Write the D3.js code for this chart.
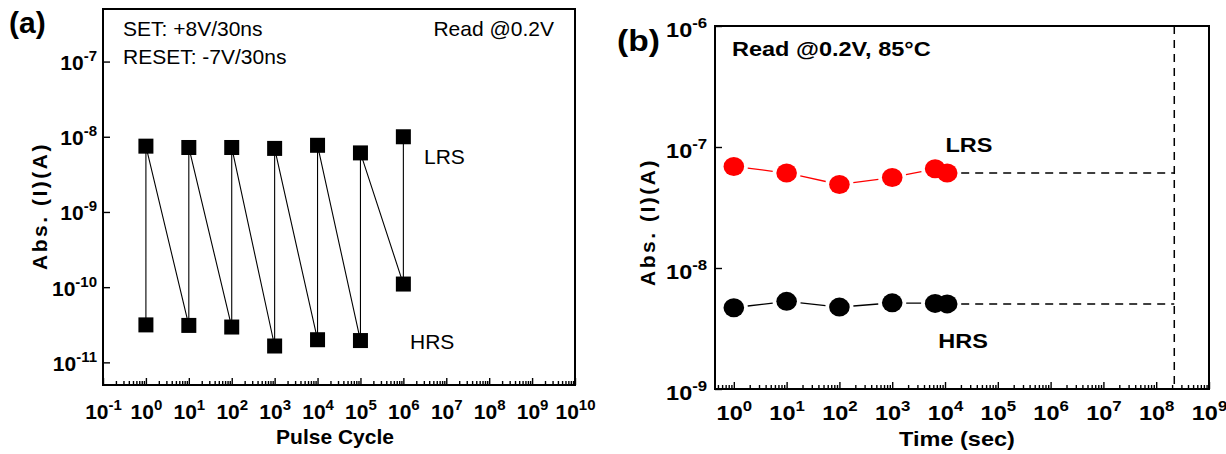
<!DOCTYPE html>
<html>
<head>
<meta charset="utf-8">
<title>Endurance and retention</title>
<script src="https://d3js.org/d3.v7.min.js"></script>
<style>
  body { margin: 0; background: #fff; }
  svg { display: block; font-family: "Liberation Sans", Arial, sans-serif; }
  .frame { fill: none; stroke: #000; stroke-width: 2; }
  .tick line { stroke: #000; stroke-width: 1.4; }
  .tick text { font-family: "Liberation Sans", Arial, sans-serif; font-weight: bold; font-size: 21px; fill: #000; }
  .note { font-size: 21px; fill: #000; }
  .bnote { font-size: 21px; font-weight: bold; fill: #000; }
  .title { font-size: 21px; font-weight: bold; fill: #000; }
</style>
</head>
<body>
<svg width="1226" height="454"></svg>
<script>
// (a) endurance: read current after each pulse cycle
const cyclesA = [1, 10, 100, 1000, 1e4, 1e5, 1e6];
const lrsA = [7.5e-9, 7.2e-9, 7.2e-9, 7.0e-9, 7.7e-9, 6.1e-9, 1.0e-8];
const hrsA = [3.15e-11, 3.1e-11, 2.95e-11, 1.65e-11, 2.0e-11, 1.95e-11, 1.1e-10];
const xExpA = d3.range(-1, 11);
const yExpA = [-11, -10, -9, -8, -7];

// (b) retention at 85C
const timeB = [1, 10, 100, 1000, 6500, 11000];
const lrsB = [6.9e-8, 6.1e-8, 4.9e-8, 5.6e-8, 6.6e-8, 6.1e-8];
const hrsB = [4.7e-9, 5.3e-9, 4.75e-9, 5.15e-9, 5.1e-9, 5.05e-9];
const retentionEnd = 2.2e8;
const xExpB = d3.range(0, 10);
const yExpB = [-9, -8, -7, -6];

const svg = d3.select("svg");

function minors(lo, hi) {
  const out = [];
  for (let e = Math.floor(Math.log10(lo)); e < Math.ceil(Math.log10(hi)); e++) {
    for (let k = 2; k < 10; k++) {
      const v = k * Math.pow(10, e);
      if (v > lo && v < hi) out.push(v);
    }
  }
  return out;
}

// "10" with superscript exponent
function powLabel(sel, sx) {
  sel.each(function(d) {
    const t = d3.select(this).text(null);
    t.append("tspan").text("10");
    t.append("tspan").attr("dy", -9).attr("font-size", 15).text(Math.round(Math.log10(d)));
    if (sx) t.attr("transform", `scale(${sx},1)`);
  });
}

function panel(cfg) {
  const x = d3.scaleLog().domain(cfg.xDomain).range([cfg.left, cfg.right]);
  const y = d3.scaleLog().domain(cfg.yDomain).range([cfg.bottom, cfg.top]);
  const g = svg.append("g");

  // minor x ticks
  g.append("g")
    .attr("transform", `translate(0,${cfg.bottom})`)
    .call(d3.axisBottom(x).tickValues(minors(...cfg.xDomain)).tickSizeInner(-4).tickSizeOuter(0).tickFormat(""))
    .call(a => a.select(".domain").remove());

  // major x ticks
  g.append("g")
    .attr("transform", `translate(0,${cfg.bottom})`)
    .call(d3.axisBottom(x).tickValues(cfg.xExp.map(e => Math.pow(10, e))).tickSizeInner(-7).tickSizeOuter(0))
    .call(a => a.select(".domain").remove())
    .call(a => a.selectAll(".tick text").attr("y", cfg.xLabelY).attr("dy", null).call(powLabel, cfg.sx));

  // major y ticks
  g.append("g")
    .attr("transform", `translate(${cfg.left},0)`)
    .call(d3.axisLeft(y).tickValues(cfg.yExp.map(e => Math.pow(10, e))).tickSizeInner(-7).tickSizeOuter(0).tickPadding(cfg.yPad))
    .call(a => a.select(".domain").remove())
    .call(a => a.selectAll(".tick text").attr("dy", cfg.yLabelDy).call(powLabel, cfg.sx));

  g.append("rect").attr("class", "frame")
    .attr("x", cfg.left).attr("y", cfg.top)
    .attr("width", cfg.right - cfg.left).attr("height", cfg.bottom - cfg.top);

  return { x, y, g };
}

// ---------- panel (a) ----------
const A = panel({
  xDomain: [0.1, 1e10], yDomain: [5e-12, 5e-7],
  left: 103, right: 575, top: 9, bottom: 385,
  xExp: xExpA, yExp: yExpA, xLabelY: 34, yPad: 6, yLabelDy: 8
});

const zigzag = cyclesA.flatMap((c, i) => [[c, hrsA[i]], [c, lrsA[i]]]);
A.g.append("path")
  .attr("d", d3.line().x(d => A.x(d[0])).y(d => A.y(d[1]))(zigzag))
  .attr("fill", "none").attr("stroke", "#000").attr("stroke-width", 1.1);

const sq = 15;
A.g.selectAll("rect.pt")
  .data(zigzag)
  .join("rect")
  .attr("class", "pt")
  .attr("x", d => A.x(d[0]) - sq / 2)
  .attr("y", d => A.y(d[1]) - sq / 2)
  .attr("width", sq).attr("height", sq)
  .attr("fill", "#000");

A.g.append("text").attr("class", "note").attr("x", 123).attr("y", 36).text("SET: +8V/30ns");
A.g.append("text").attr("class", "note").attr("x", 123).attr("y", 64).text("RESET: -7V/30ns");
A.g.append("text").attr("class", "note").attr("x", 554).attr("y", 36).attr("text-anchor", "end").text("Read @0.2V");
A.g.append("text").attr("class", "note").attr("x", 424).attr("y", 164).text("LRS");
A.g.append("text").attr("class", "note").attr("x", 410).attr("y", 349).text("HRS");

svg.append("text").attr("x", 9).attr("y", 33)
  .attr("font-size", 30).attr("font-weight", "bold").text("(a)");
svg.append("text").attr("class", "title")
  .attr("transform", "translate(47,206) rotate(-90)")
  .attr("text-anchor", "middle").attr("letter-spacing", 2.5).text("Abs. (I)(A)");
svg.append("text").attr("class", "title")
  .attr("x", 335).attr("y", 444).attr("text-anchor", "middle").attr("font-size", 22).text("Pulse Cycle");

// ---------- panel (b) ----------
const sxB = 1.12;
const B = panel({
  xDomain: [0.44, 1e9], yDomain: [1e-9, 1e-6],
  left: 715, right: 1209, top: 26, bottom: 389,
  xExp: xExpB, yExp: yExpB, xLabelY: 31, yPad: 7, yLabelDy: 10, sx: sxB
});

const dash = "8,6";
const xEnd = B.x(retentionEnd);
B.g.append("line")
  .attr("x1", xEnd).attr("x2", xEnd).attr("y1", B.y(1e-6)).attr("y2", B.y(1e-9))
  .attr("stroke", "#000").attr("stroke-width", 1.5).attr("stroke-dasharray", dash);

const rx = 10.3, ry = 9.5, gap = 14;
[[lrsB, "#ff0000"], [hrsB, "#000"]].forEach(([vals, col]) => {
  const pts = timeB.map((t, i) => [B.x(t), B.y(vals[i])]);
  const last = pts[pts.length - 1];

  B.g.append("line")
    .attr("x1", last[0]).attr("x2", xEnd).attr("y1", last[1]).attr("y2", last[1])
    .attr("stroke", "#000").attr("stroke-width", 1.5).attr("stroke-dasharray", dash);

  // segments with a gap around each marker
  const segs = d3.pairs(pts).filter(([p, q]) => Math.hypot(q[0] - p[0], q[1] - p[1]) > 2 * gap + 2);
  B.g.selectAll(null)
    .data(segs)
    .join("line")
    .each(function([p, q]) {
      const L = Math.hypot(q[0] - p[0], q[1] - p[1]);
      const ux = (q[0] - p[0]) / L, uy = (q[1] - p[1]) / L;
      d3.select(this)
        .attr("x1", p[0] + ux * gap).attr("y1", p[1] + uy * gap)
        .attr("x2", q[0] - ux * gap).attr("y2", q[1] - uy * gap);
    })
    .attr("stroke", col).attr("stroke-width", 1.3);

  B.g.selectAll(null)
    .data(pts)
    .join("ellipse")
    .attr("cx", d => d[0]).attr("cy", d => d[1])
    .attr("rx", rx).attr("ry", ry)
    .attr("fill", col);
});

function bText(x, y, str, anchor) {
  return B.g.append("text").attr("class", "bnote")
    .attr("text-anchor", anchor || "start")
    .attr("transform", `translate(${x},${y}) scale(${sxB},1)`)
    .text(str);
}
bText(732, 56, "Read @0.2V, 85\u00b0C");
bText(969, 152, "LRS", "middle");
bText(963, 348, "HRS", "middle");

svg.append("text")
  .attr("transform", `translate(617,51) scale(${sxB},1)`)
  .attr("font-size", 30).attr("font-weight", "bold").text("(b)");
svg.append("text").attr("class", "title")
  .attr("transform", "translate(655,222) rotate(-90)")
  .attr("text-anchor", "middle").attr("letter-spacing", 2.5).text("Abs. (I)(A)");
svg.append("text").attr("class", "title")
  .attr("transform", `translate(957,446) scale(${sxB},1)`)
  .attr("text-anchor", "middle").attr("font-size", 22).text("Time (sec)");
</script>
</body>
</html>
